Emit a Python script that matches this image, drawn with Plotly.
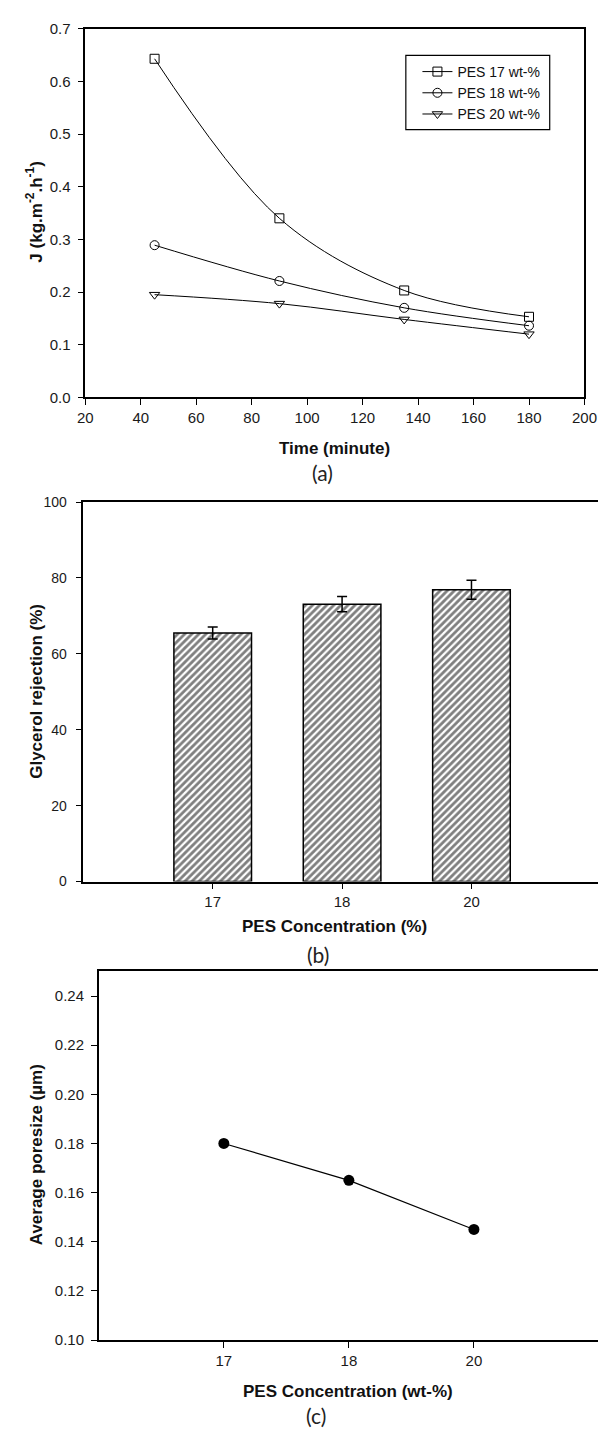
import plotly.graph_objects as go

W, H = 611, 1436

# ---------- data ----------
time_min = [45, 90, 135, 180]
flux_pes17 = [0.643, 0.340, 0.203, 0.153]
flux_pes18 = [0.289, 0.221, 0.170, 0.136]
flux_pes20 = [0.195, 0.178, 0.148, 0.120]
series_names = ["PES 17 wt-%", "PES 18 wt-%", "PES 20 wt-%"]

conc_labels = ["17", "18", "20"]
rejection = [65.5, 73.1, 76.9]
rejection_err = [1.6, 2.0, 2.5]

poresize = [0.180, 0.165, 0.145]

# ---------- helpers ----------
def px_x(p):
    return p / W

def px_y(p):
    return 1 - p / H

FAM = "Liberation Sans"
TICKFONT = dict(family=FAM, size=15, color="#1a1a1a")
TITLEFONT = dict(family=FAM, size=17, color="#111")
CAPFONT = dict(family="Lato", size=21, color="#222")

fig = go.Figure()

# ---------- panel (a) ----------
symbols = ["square-open", "circle-open", "triangle-down-open"]
for name, ys, sym in zip(series_names, [flux_pes17, flux_pes18, flux_pes20], symbols):
    fig.add_trace(go.Scatter(
        x=time_min, y=ys, name=name, mode="lines+markers",
        line=dict(color="black", width=1, shape="spline", smoothing=1.0),
        marker=dict(symbol=sym, size=9, color="black", line=dict(width=1, color="black")),
        xaxis="x", yaxis="y", showlegend=True,
    ))

# ---------- panel (b) ----------
fig.add_trace(go.Bar(
    x=conc_labels, y=rejection, width=0.6,
    error_y=dict(type="data", array=rejection_err, visible=True,
                 color="black", thickness=1.5, width=5),
    marker=dict(color="white", line=dict(color="black", width=1.5),
                pattern=dict(shape="/", fgcolor="black", bgcolor="white",
                             size=5, solidity=0.55)),
    xaxis="x2", yaxis="y2", showlegend=False,
))

# ---------- panel (c) ----------
fig.add_trace(go.Scatter(
    x=conc_labels, y=poresize, mode="lines+markers",
    line=dict(color="black", width=1.2),
    marker=dict(symbol="circle", size=11, color="black"),
    xaxis="x3", yaxis="y3", showlegend=False,
))

axis_common = dict(showline=True, linecolor="black", linewidth=1.5,
                   ticks="outside", ticklen=6, tickwidth=1.2, tickcolor="black",
                   showgrid=False, zeroline=False, tickfont=TICKFONT)

fig.update_layout(
    width=W, height=H,
    margin=dict(l=0, r=0, t=0, b=0),
    paper_bgcolor="white", plot_bgcolor="white",
    # (a)
    xaxis=dict(domain=[px_x(80), px_x(597)], anchor="y", range=[20, 200],
               tickvals=[20, 40, 60, 80, 100, 120, 140, 160, 180, 200],
               mirror=True, **axis_common),
    yaxis=dict(domain=[px_y(393), px_y(20)], anchor="x", range=[0, 0.7],
               tickvals=[0, 0.1, 0.2, 0.3, 0.4, 0.5, 0.6, 0.7], tickformat=".1f",
               mirror=True, ticklabelstandoff=4, **axis_common),
    # (b)
    xaxis2=dict(domain=[px_x(78), 1], anchor="y2", type="category",
                range=[-1, 2.978], mirror=True, **axis_common),
    yaxis2=dict(domain=[px_y(883), px_y(499)], anchor="x2", range=[0, 100],
                tickvals=[0, 20, 40, 60, 80, 100], ticklabelstandoff=6,
                **{**axis_common, "tickfont": dict(TICKFONT, size=14)}),
    # (c)
    xaxis3=dict(domain=[px_x(94), 1], anchor="y3", type="category",
                range=[-1, 2.992], mirror=True, **axis_common),
    yaxis3=dict(domain=[px_y(1347), px_y(974)], anchor="x3", range=[0.10, 0.25],
                tickvals=[0.10, 0.12, 0.14, 0.16, 0.18, 0.20, 0.22, 0.24],
                tickformat=".2f", ticklabelstandoff=4, **axis_common),
    legend=dict(x=px_x(424), y=px_y(85), xanchor="left", yanchor="middle",
                bgcolor="rgba(0,0,0,0)", borderwidth=0,
                font=dict(family=FAM, size=14, color="#111"),
                itemwidth=30, tracegroupgap=0,
                ),
)

# legend frame
fig.add_shape(type="rect", xref="paper", yref="paper",
              x0=px_x(412), x1=px_x(561), y0=px_y(122), y1=px_y(47),
              line=dict(color="black", width=1.2), fillcolor="white", layer="below")

annots = [
    # axis titles
    dict(text="<b>Time (minute)</b>", x=px_x(338), y=px_y(445), font=TITLEFONT),
    dict(text="<b>J (kg.m<sup>-2</sup>.h<sup>-1</sup>)</b>", x=px_x(27), y=px_y(206),
         font=TITLEFONT, textangle=-90),
    dict(text="<b>PES Concentration (%)</b>", x=px_x(338), y=px_y(928), font=TITLEFONT),
    dict(text="<b>Glycerol rejection (%)</b>", x=px_x(30), y=px_y(690),
         font=TITLEFONT, textangle=-90),
    dict(text="<b>PES Concentration (wt-%)</b>", x=px_x(352), y=px_y(1399), font=TITLEFONT),
    dict(text="<b>Average poresize (µm)</b>", x=px_x(29), y=px_y(1160),
         font=TITLEFONT, textangle=-90),
    # captions
    dict(text="(a)", x=px_x(326), y=px_y(469), font=CAPFONT),
    dict(text="(b)", x=px_x(321), y=px_y(957), font=CAPFONT),
    dict(text="(c)", x=px_x(319), y=px_y(1423), font=CAPFONT),
]
for a in annots:
    fig.add_annotation(xref="paper", yref="paper", xanchor="center", yanchor="middle",
                       showarrow=False, **a)

fig.write_html("out.html")
